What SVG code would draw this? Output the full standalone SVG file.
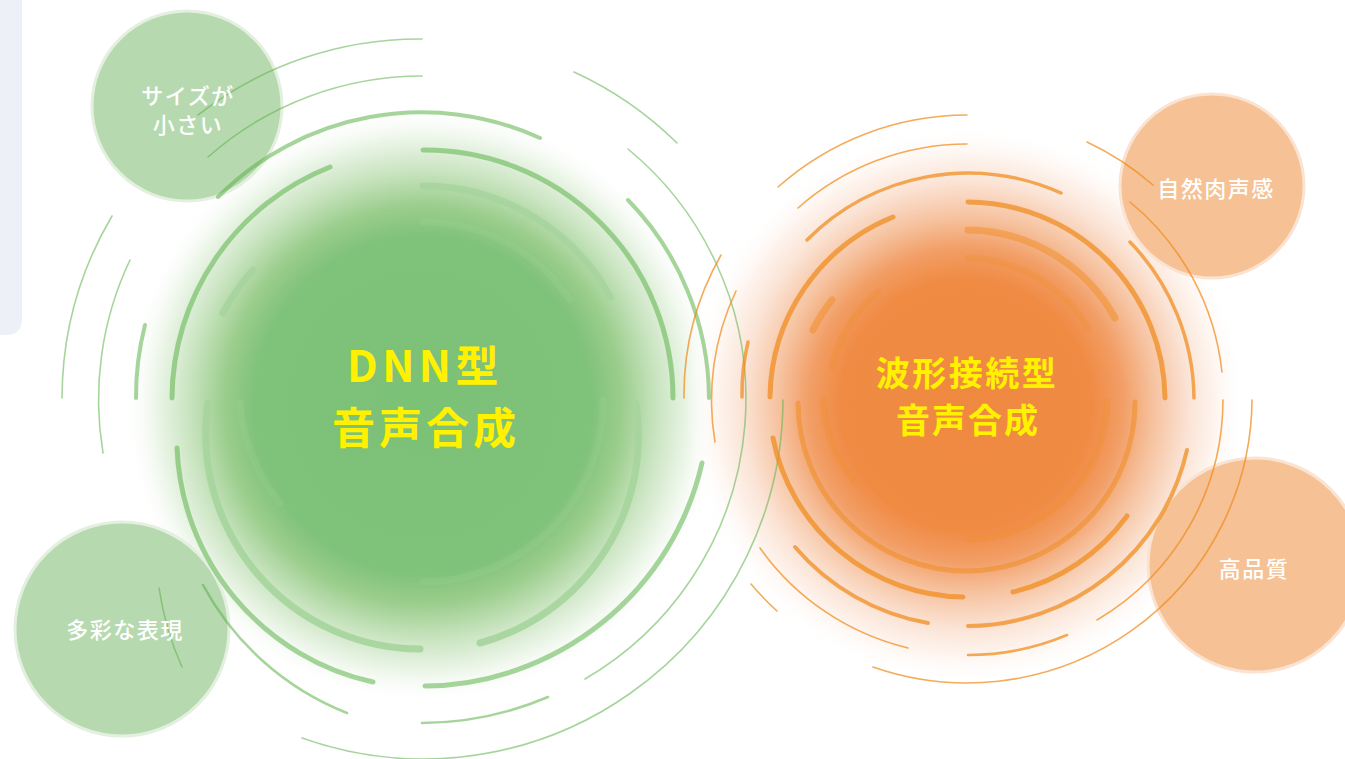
<svg xmlns="http://www.w3.org/2000/svg" width="1345" height="759" viewBox="0 0 1345 759">
<defs>
<radialGradient id="gGlow" cx="423" cy="405" r="300" gradientUnits="userSpaceOnUse">
<stop offset="0" stop-color="#7bc176"/>
<stop offset="0.56" stop-color="#7fc27a"/>
<stop offset="0.66" stop-color="#9acd8b"/>
<stop offset="0.78" stop-color="#c9e4c0"/>
<stop offset="0.9" stop-color="#eff7ec"/>
<stop offset="1" stop-color="#ffffff" stop-opacity="0"/>
</radialGradient>
<radialGradient id="oGlow" cx="966" cy="405" r="280" gradientUnits="userSpaceOnUse">
<stop offset="0" stop-color="#ef8940"/>
<stop offset="0.45" stop-color="#f08b44"/>
<stop offset="0.56" stop-color="#f29e66"/>
<stop offset="0.67" stop-color="#f6c29f"/>
<stop offset="0.8" stop-color="#fbe4d6"/>
<stop offset="0.9" stop-color="#fef6f1"/>
<stop offset="1" stop-color="#ffffff" stop-opacity="0"/>
</radialGradient>
<style>
.g{fill:none;stroke:#5cb34a;stroke-opacity:.55;stroke-linecap:round}
.gi{fill:none;stroke:#a8d59e;stroke-opacity:.95;stroke-linecap:round}
.o{fill:none;stroke:#f08a1a;stroke-opacity:.72;stroke-linecap:round}
.t1{stroke-width:1.6}
.t2{stroke-width:2.6}
.t4{stroke-width:4}
.t5{stroke-width:5}
.t7{stroke-width:7}
.lt{stroke-opacity:.45}
.ft{stroke-opacity:.2}
.gf{fill:none;stroke:#a6d69a;stroke-opacity:.18;stroke-width:7;stroke-linecap:round}
.sg{fill:#b7d9af;stroke:#e3efdf;stroke-width:3}
.so{fill:#f6c195;stroke:#fbe3d2;stroke-width:3}
.main{font-family:"Noto Sans CJK JP","Noto Sans",sans-serif;font-weight:700;fill:#fff100;text-anchor:middle}
.sub{font-family:"Noto Sans CJK JP","Noto Sans",sans-serif;font-weight:500;fill:#ffffff;font-size:22px;letter-spacing:1.5px;text-anchor:middle}
</style>
</defs>
<rect width="1345" height="759" fill="#ffffff"/>
<rect x="-20" y="-20" width="42" height="355" rx="14" fill="#edf1f7"/>

<g id="glows">
<circle cx="423" cy="405" r="300" fill="url(#gGlow)"/>
<circle cx="966" cy="405" r="280" fill="url(#oGlow)"/>
</g>

<g id="node-size-small">
<circle class="sg" cx="187" cy="106" r="95"/>
</g>
<g id="node-variety">
<circle class="sg" cx="122" cy="629" r="107"/>
</g>
<g id="node-natural">
<circle class="so" cx="1212" cy="186" r="92"/>
</g>
<g id="node-quality">
<circle class="so" cx="1255" cy="565" r="107"/>
</g>

<g id="connectors">
<g id="green-rings">
<path class="gf" d="M423 222 A177 177 0 0 1 570 300"/>
<path class="gf" d="M240 403 A183 183 0 0 0 280 503"/>
<path class="gf" d="M603 400 A180 180 0 0 1 423 582"/>
<path class="g t1" d="M112 216 A360 360 0 0 0 62 398"/>
<path class="g t1" d="M422 39 A360 360 0 0 0 198 115"/>
<path class="g t1" d="M130 260 A325 325 0 0 0 103 453"/>
<path class="g t1" d="M422 76 A323 323 0 0 0 208 157"/>
<path class="g t4" d="M218 197 A287 287 0 0 1 540 138"/>
<path class="g t4" d="M628 200 A286 286 0 0 1 709 398"/>
<path class="g t4" d="M145 325 A287 287 0 0 0 136 398"/>
<path class="g t5" d="M330 167 A250 250 0 0 0 172 398"/>
<path class="g t5" d="M423 150 A248 248 0 0 1 673 398"/>
<path class="gi t7" d="M423 186 A213 213 0 0 1 610 297"/>
<path class="gi t7" d="M253 270 A213 213 0 0 0 223 313"/>
<path class="g t1" d="M574 72 A360 360 0 0 1 677 143"/>
<path class="g t1" d="M628 149 A324 324 0 0 1 585 679"/>
<path class="g t1" d="M783 400 A360 360 0 0 1 302 738"/>
<path class="gi t7" d="M636 403 A215 215 0 0 1 480 643"/>
<path class="g t5" d="M702 463 A287 287 0 0 1 425 686"/>
<path class="g t2" d="M548 697 A325 325 0 0 1 422 723"/>
<path class="gi t7" d="M208 403 A215 215 0 0 0 420 649"/>
<path class="g t5" d="M177 448 A250 250 0 0 0 373 682"/>
<path class="g t2" d="M203 585 A280 280 0 0 0 347 713"/>
<path class="g t1" d="M159 588 A300 300 0 0 0 182 667"/>
</g>
<g id="orange-rings">
<path class="o t1" d="M778 187 A285 285 0 0 1 967 115"/>
<path class="o t1" d="M798 208 A256 256 0 0 1 967 144"/>
<path class="o" style="stroke-width:3.5" d="M807 240 A227 227 0 0 1 1061 193"/>
<path class="o t5" d="M968 202 A198 198 0 0 1 1165 398"/>
<path class="o t7 lt" d="M968 230 A170 170 0 0 1 1115 318"/>
<path class="o t7 ft" d="M968 258 A142 142 0 0 1 1088 328"/>
<path class="o t5" d="M893 217 A197 197 0 0 0 770 397"/>
<path class="o t7 lt" d="M832 300 A168 168 0 0 0 813 330"/>
<path class="o t7 ft" d="M878 292 A139 139 0 0 0 832 367"/>
<path class="o t1" d="M721 255 A283 283 0 0 0 684 398"/>
<path class="o t1" d="M736 291 A254 254 0 0 0 715 442"/>
<path class="o" style="stroke-width:3.5" d="M748 342 A225 225 0 0 0 742 397"/>
<path class="o t1" d="M1087 142 A285 285 0 0 1 1153 185"/>
<path class="o t1" d="M1130 202 A256 256 0 0 1 1222 372"/>
<path class="o" style="stroke-width:3.5" d="M1130 242 A228 228 0 0 1 1194 398"/>
<path class="o t1" d="M1252 400 A285 285 0 0 1 873 667"/>
<path class="o t1" d="M1223 400 A256 256 0 0 1 1097 620"/>
<path class="o t1" d="M760 548 A254 254 0 0 0 908 648"/>
<path class="o t1" d="M751 584 A283 283 0 0 0 777 611"/>
<path class="o t4" d="M795 547 A226 226 0 0 0 928 623"/>
<path class="o t5" d="M773 438 A197 197 0 0 0 963 597"/>
<path class="o t5" style="stroke-opacity:.5" d="M798 403 A168 168 0 0 0 1135 402"/>
<path class="o t7 ft" d="M1107 402 A140 140 0 0 1 970 539"/>
<path class="o t7 ft" d="M823 400 A141 141 0 0 0 853 480"/>
<path class="o t5" d="M1127 516 A198 198 0 0 1 1013 592"/>
<path class="o t4" d="M1187 450 A226 226 0 0 1 968 626"/>
<path class="o t2" d="M968 655 A255 255 0 0 0 1067 635"/>
</g>
</g>

<g id="node-dnn">
<text class="main" x="425" y="382" font-size="43" letter-spacing="4.5">DNN型</text>
<text class="main" x="426" y="444" font-size="43" letter-spacing="4">音声合成</text>
</g>
<g id="node-waveform">
<text class="main" x="967" y="386" font-size="34" letter-spacing="2.5">波形接続型</text>
<text class="main" x="968" y="433" font-size="34" letter-spacing="2">音声合成</text>
</g>
<g id="labels">
<text class="sub" x="188" y="104">サイズが</text>
<text class="sub" x="188" y="133">小さい</text>
<text class="sub" x="125" y="638">多彩な表現</text>
<text class="sub" x="1216" y="197">自然肉声感</text>
<text class="sub" x="1254" y="577">高品質</text>
</g>
</svg>
